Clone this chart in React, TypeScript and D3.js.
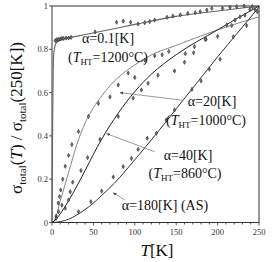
import React from 'react';
import * as d3 from 'd3';

// fitted curves (T in K, normalised conductivity)
const fitT01 = [0, 0.5, 1, 1.5, 2, 3, 4, 6, 10, 20, 40, 60, 100, 150, 200, 250];
const fitV01 = [0, 0.3, 0.55, 0.7, 0.77, 0.805, 0.82, 0.833, 0.843, 0.853, 0.868, 0.883, 0.915, 0.952, 0.977, 1.0];
const fitT20 = [0, 3, 10, 20, 30, 40, 50, 60, 80, 100, 120, 150, 200, 250];
const fitV20 = [0, 0.01, 0.1, 0.23, 0.36, 0.46, 0.53, 0.585, 0.67, 0.728, 0.774, 0.818, 0.89, 0.95];
const fitT40 = [0, 5, 10, 20, 30, 40, 50, 60, 80, 100, 120, 150, 200, 250];
const fitV40 = [0, 0.015, 0.04, 0.1, 0.168, 0.24, 0.315, 0.385, 0.505, 0.605, 0.685, 0.775, 0.89, 1.0];
const fitT180 = [0, 10, 20, 30, 40, 50, 60, 75, 100, 125, 150, 175, 200, 225, 250];
const fitV180 = [0, 0.004, 0.015, 0.035, 0.06, 0.09, 0.125, 0.18, 0.29, 0.405, 0.525, 0.645, 0.765, 0.88, 0.995];

// measured points
const ptT01 = [4, 6, 8, 10, 12, 14, 17, 20, 23, 52, 78, 86, 95, 104, 112, 118, 124, 139, 146, 155, 164, 173, 179, 187, 193, 206, 215, 223, 232, 242];
const ptV01 = [0.84, 0.845, 0.845, 0.848, 0.85, 0.85, 0.852, 0.852, 0.855, 0.88, 0.925, 0.93, 0.925, 0.917, 0.923, 0.928, 0.935, 0.948, 0.954, 0.959, 0.966, 0.969, 0.974, 0.981, 0.989, 0.989, 0.994, 0.997, 1.0, 0.997];
const ptT20 = [5, 7.5, 9, 10.5, 13, 16, 20, 24, 32, 44, 56, 70, 80, 92, 100, 112, 124, 133, 141, 148, 160, 171, 186, 200, 217, 227, 239];
const ptV20 = [0.03, 0.09, 0.12, 0.15, 0.2, 0.26, 0.31, 0.36, 0.42, 0.49, 0.55, 0.58, 0.635, 0.69, 0.67, 0.75, 0.77, 0.775, 0.79, 0.7, 0.74, 0.784, 0.846, 0.86, 0.91, 0.95, 0.985];
const ptT40 = [5, 8, 12, 16, 20, 22, 25, 35, 43, 58, 80, 98, 108, 116, 128, 161, 172, 185, 211, 221, 233, 245];
const ptV40 = [0.02, 0.05, 0.08, 0.066, 0.104, 0.142, 0.186, 0.24, 0.3, 0.384, 0.49, 0.574, 0.612, 0.643, 0.68, 0.78, 0.812, 0.846, 0.912, 0.935, 0.958, 0.985];
const ptT180 = [32, 47, 60, 74, 86, 96, 104, 115, 126, 138, 148, 169, 180, 190, 203, 219, 235, 248];
const ptV180 = [0.05, 0.096, 0.145, 0.21, 0.258, 0.296, 0.338, 0.389, 0.412, 0.473, 0.52, 0.615, 0.654, 0.708, 0.754, 0.858, 0.91, 0.974];

const xTicks = [0, 50, 100, 150, 200, 250];
const yTicks = [0, 0.2, 0.4, 0.6, 0.8, 1];
const yTickLabels = ['0', '0.2', '0.4', '0.6', '0.8', '1'];

const W = 273;
const H = 262;
const font = '"Liberation Serif", "Times New Roman", serif';

export default function App() {
  const x = d3.scaleLinear().domain([0, 250]).range([52, 259]);
  const y = d3.scaleLinear().domain([0, 1]).range([222.5, 6]);

  const line = d3
    .line<[number, number]>()
    .x((d) => x(d[0]))
    .y((d) => y(d[1]))
    .curve(d3.curveMonotoneX);

  const zip = (a: number[], b: number[]) => a.map((t, i) => [t, b[i]] as [number, number]);

  const fits = [
    { d: zip(fitT01, fitV01), color: '#666', w: 1.1 },
    { d: zip(fitT20, fitV20), color: '#888', w: 1 },
    { d: zip(fitT40, fitV40), color: '#222', w: 1 },
    { d: zip(fitT180, fitV180), color: '#333', w: 1 },
  ];
  const pts = [
    ...zip(ptT01, ptV01),
    ...zip(ptT20, ptV20),
    ...zip(ptT40, ptV40),
    ...zip(ptT180, ptV180),
  ];
  const diamond = d3.symbol(d3.symbolDiamond, 5)() as string;
  const minor = d3.range(0, 251, 10);

  // arrows: [from label, to curve] in data units
  const arrows = [
    { from: [157, 0.565], to: [82, 0.6] },
    { from: [124, 0.327], to: [66, 0.41] },
    { from: [88, 0.104], to: [74, 0.137] },
  ];

  return (
    <svg width={W} height={H} style={{ position: 'absolute', left: 0, top: 0, background: '#fff' }} fontFamily={font}>
      <defs>
        <marker id="ah" viewBox="0 0 10 10" refX="9" refY="5" markerWidth="6" markerHeight="6" orient="auto">
          <path d="M0,1 L10,5 L0,9 z" fill="#444" />
        </marker>
      </defs>
      {/* frame */}
      <rect x={x(0)} y={y(1)} width={x(250) - x(0)} height={y(0) - y(1)} fill="none" stroke="#333" strokeWidth={1} />
      {/* x ticks */}
      {minor.map((t) => (
        <line key={'m' + t} x1={x(t)} x2={x(t)} y1={y(0)} y2={y(0) + (t % 50 === 0 ? 3 : 2)} stroke="#333" strokeWidth={0.8} />
      ))}
      {xTicks.map((t) => (
        <text key={'xt' + t} x={x(t)} y={y(0) + 12} fontSize={8.5} textAnchor="middle" fill="#333">
          {t}
        </text>
      ))}
      {yTicks.map((t, i) => (
        <g key={'yt' + t}>
          <line x1={x(0) - 3} x2={x(0)} y1={y(t)} y2={y(t)} stroke="#333" strokeWidth={0.8} />
          <text x={x(0) - 4} y={y(t) + 3} fontSize={8.5} textAnchor="end" fill="#333">
            {yTickLabels[i]}
          </text>
        </g>
      ))}
      {/* curves */}
      {fits.map((f, i) => (
        <path key={'f' + i} d={line(f.d) as string} fill="none" stroke={f.color} strokeWidth={f.w} />
      ))}
      {/* points */}
      {pts.map((p, i) => (
        <path key={'p' + i} d={diamond} transform={`translate(${x(p[0])},${y(p[1])})`} fill="#777" stroke="#222" strokeWidth={0.6} />
      ))}
      {/* arrows */}
      {arrows.map((a, i) => (
        <line key={'a' + i} x1={x(a.from[0])} y1={y(a.from[1])} x2={x(a.to[0])} y2={y(a.to[1])} stroke="#555" strokeWidth={0.6} markerEnd="url(#ah)" />
      ))}
      {/* annotations */}
      <g fontSize={14} fill="#111">
        <text x={108} y={43} textAnchor="middle">α=0.1[K]</text>
        <text x={108} y={62} textAnchor="middle">
          (<tspan fontStyle="italic">T</tspan>
          <tspan fontSize={9} dy={3}>HT</tspan>
          <tspan dy={-3}>=1200°C)</tspan>
        </text>
        <text x={212} y={106} textAnchor="middle">α=20[K]</text>
        <text x={206} y={125} textAnchor="middle">
          (<tspan fontStyle="italic">T</tspan>
          <tspan fontSize={9} dy={3}>HT</tspan>
          <tspan dy={-3}>=1000°C)</tspan>
        </text>
        <text x={188} y={160} textAnchor="middle">α=40[K]</text>
        <text x={185} y={178} textAnchor="middle">
          (<tspan fontStyle="italic">T</tspan>
          <tspan fontSize={9} dy={3}>HT</tspan>
          <tspan dy={-3}>=860°C)</tspan>
        </text>
        <text x={165} y={210} textAnchor="middle">α=180[K] (AS)</text>
      </g>
      {/* axis titles */}
      <text x={157} y={256} fontSize={17} textAnchor="middle" fill="#111">
        <tspan fontStyle="italic">T</tspan>[K]
      </text>
      <text transform="translate(22,118) rotate(-90)" fontSize={17} textAnchor="middle" fill="#111">
        σ<tspan fontSize={11} dy={4}>total</tspan>
        <tspan dy={-4}>(</tspan>
        <tspan fontStyle="italic">T</tspan>) / σ<tspan fontSize={11} dy={4}>total</tspan>
        <tspan dy={-4}>(250[K])</tspan>
      </text>
    </svg>
  );
}
